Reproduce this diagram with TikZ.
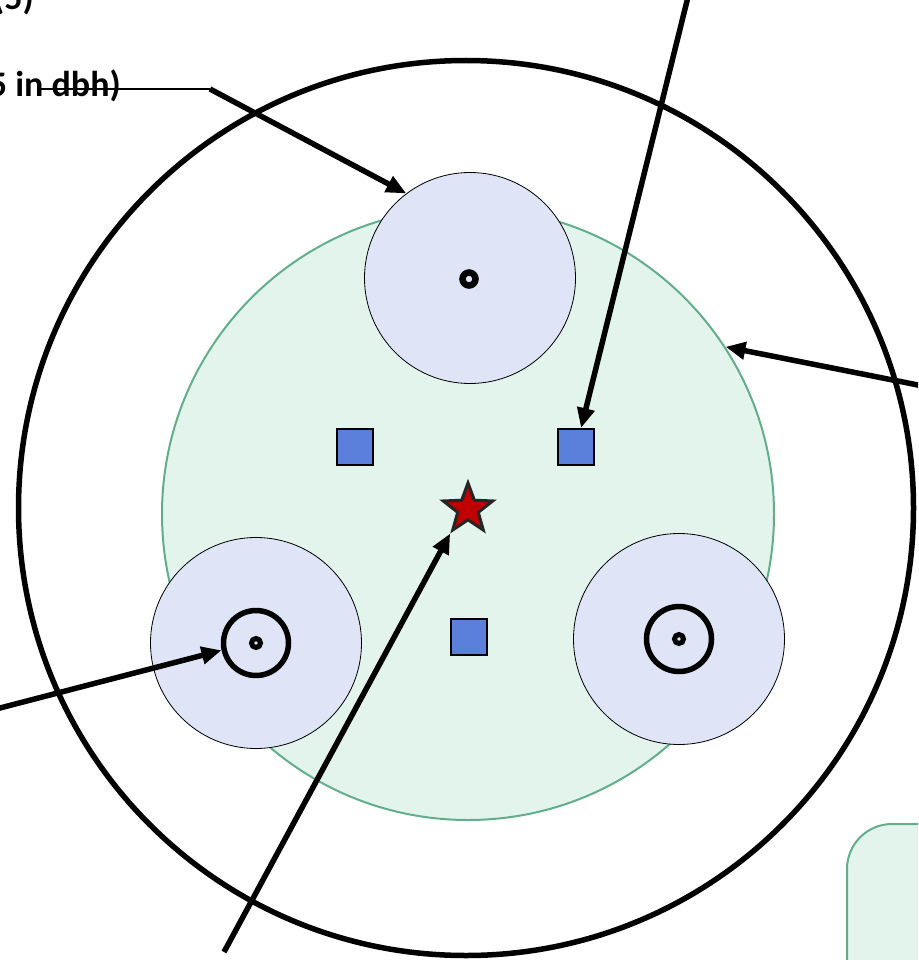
\documentclass[tikz,border=0pt]{standalone}
\usepackage{fontspec}
\setmainfont{Carlito}
\usetikzlibrary{shapes.geometric, arrows.meta, positioning}

\definecolor{plotgreen}{HTML}{E3F4EC}
\definecolor{plotedge}{HTML}{62AE8B}
\definecolor{subblue}{HTML}{DFE5F6}
\definecolor{sqblue}{HTML}{5B80DB}
\definecolor{starred}{HTML}{C00000}

\begin{document}
\begin{tikzpicture}[
    x=1pt, y=-1pt,
    outer/.style={circle, draw, line width=5.5pt, minimum size=895pt, inner sep=0pt},
    plotc/.style={circle, fill=plotgreen, draw=plotedge, line width=2pt, minimum size=612pt, inner sep=0pt},
    subplot/.style={circle, fill=subblue, draw, line width=0.8pt, minimum size=211pt, inner sep=0pt},
    ring/.style={circle, draw, line width=5.5pt, minimum size=65pt, inner sep=0pt},
    dot/.style={circle, draw, line width=5pt, minimum size=9pt, inner sep=0pt},
    marker/.style={rectangle, fill=sqblue, draw, line width=2pt, minimum size=36pt, inner sep=0pt},
    ctrstar/.style={star, star points=5, star point ratio=2.4, fill=starred, draw=black!85, line width=3pt, minimum size=52pt, inner sep=0pt},
    legendbox/.style={rectangle, rounded corners=45pt, fill=plotgreen, draw=plotedge, line width=2pt, minimum width=150pt, minimum height=200pt, anchor=north west},
    arr/.style={line width=5.5pt, -{Triangle[length=20pt, width=17pt]}},
    lbl/.style={font=\fontsize{36}{43}\selectfont\bfseries, inner sep=0pt}
]
\useasboundingbox (0,0) rectangle (918,960);
\clip (0,0) rectangle (918,960);

% Outer circle and plot
\node[outer] (bigC) at (466, 508) {};
\node[plotc] (plot) at (468, 514) {};

% Legend box (bottom right)
\node[legendbox] (legend) at (846, 823) {};

% Subplots
\node[subplot] (subT) at (470, 278) {};
\node[subplot] (subL) at (256, 643) {};
\node[subplot] (subR) at (679, 639) {};

% Trees in the subplots
\node[circle, draw, line width=6.5pt, minimum size=13pt, inner sep=0pt] (ringT) at (469, 279) {};
\node[ring] (ringL) at (256, 643) {};
\node[dot] (dotL) at (256, 643) {};
\node[ring] (ringR) at (679, 639) {};
\node[dot] (dotR) at (679, 639) {};

% Markers
\node[marker] (sqL) at (355, 447) {};
\node[marker] (sqR) at (576, 447) {};
\node[marker] (sqB) at (469, 637) {};

% Plot centre
\node[ctrstar] (ctr) at (468, 509) {};

% Labels
\node[lbl, anchor=base east] (lblA) at (34, 10) {(5)};
\node[lbl, anchor=base east] (lblB) at (121, 97) {5 in dbh)};

% Free ends of the arrows
\coordinate (lineA) at (38, 89);
\coordinate (knee) at (210, 89);
\coordinate (topEnd) at (689.7, -10);
\coordinate (rightEnd) at (930, 387.4);
\coordinate (leftEnd) at (-10, 710.6);
\coordinate (botEnd) at (224, 952);

% Arrows
\draw[line width=2pt] (lineA) -- (knee);
\draw[arr] (knee) -- (subT.127);
\draw[arr] (topEnd) -- (sqR.75);
\draw[arr] (rightEnd) -- (plot.33);
\draw[arr] (leftEnd) -- (ringL.192);
\draw[arr] (botEnd) -- (ctr.234);

\end{tikzpicture}
\end{document}
